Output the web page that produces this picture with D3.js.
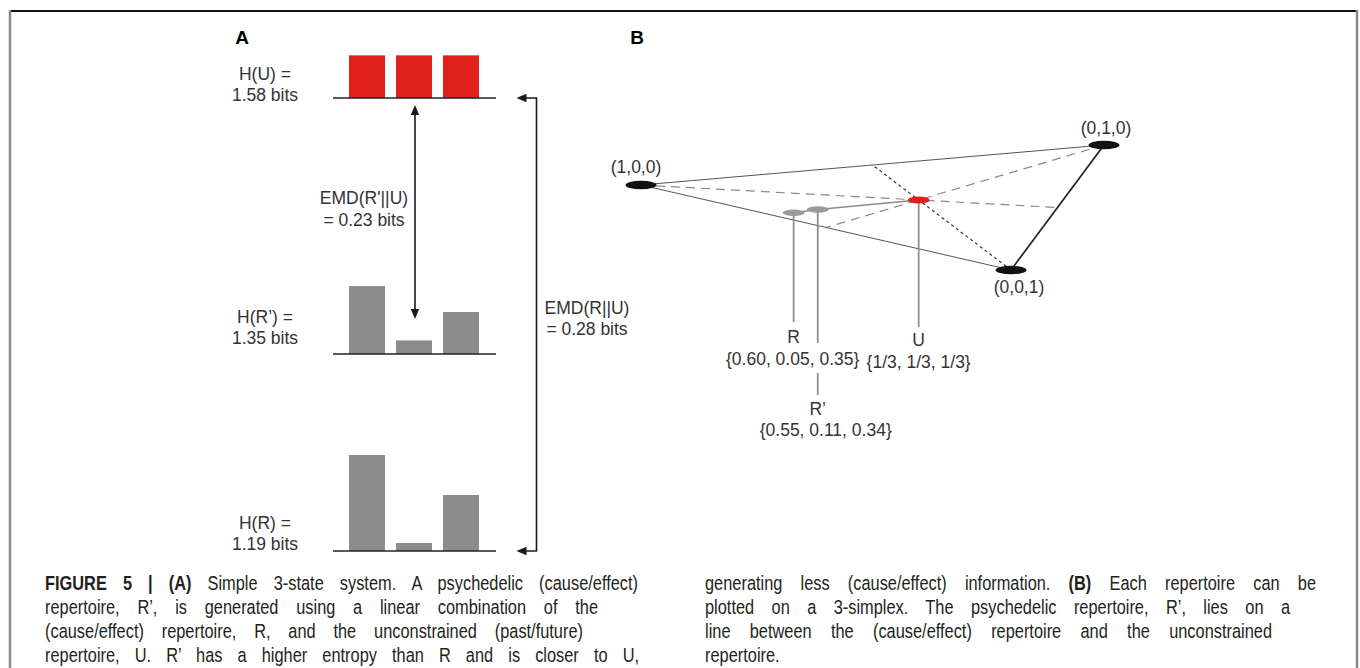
<!DOCTYPE html>
<html>
<head>
<meta charset="utf-8">
<script src="https://cdn.jsdelivr.net/npm/d3@7"></script>
<style>
  html, body { margin: 0; padding: 0; background: #fff; }
  svg { display: block; }
</style>
</head>
<body>
<svg id="fig" width="1360" height="668"></svg>
<script>
// ---------- data ----------
const states = [0, 1, 2];
const probU = [1 / 3, 1 / 3, 1 / 3];
const probRPrime = [0.55, 0.11, 0.34];
const probR = [0.60, 0.05, 0.35];
const entropyLabels = [["H(U) =", "1.58 bits"], ["H(R’) =", "1.35 bits"], ["H(R) =", "1.19 bits"]];
const emdLabels = [["EMD(R'||U)", "= 0.23 bits"], ["EMD(R||U)", "= 0.28 bits"]];
const vertexCoords = [[1, 0, 0], [0, 1, 0], [0, 0, 1]];
const vertexLabels = ["(1,0,0)", "(0,1,0)", "(0,0,1)"];
const pointNames = ["R", "R’", "U"];
const pointValueLabels = ["{0.60, 0.05, 0.35}", "{0.55, 0.11, 0.34}", "{1/3, 1/3, 1/3}"];
const captionLeft = [
  [{ t: "FIGURE 5 | (A)", b: true }, { t: " Simple 3-state system. A psychedelic (cause/effect)" }],
  [{ t: "repertoire, R’, is generated using a linear combination of the" }],
  [{ t: "(cause/effect) repertoire, R, and the unconstrained (past/future)" }],
  [{ t: "repertoire, U. R’ has a higher entropy than R and is closer to U," }]
];
const captionRight = [
  [{ t: "generating less (cause/effect) information. " }, { t: "(B)", b: true }, { t: " Each repertoire can be" }],
  [{ t: "plotted on a 3-simplex. The psychedelic repertoire, R’, lies on a" }],
  [{ t: "line between the (cause/effect) repertoire and the unconstrained" }],
  [{ t: "repertoire." }]
];

// ---------- setup ----------
const svg = d3.select("#fig");
const FONT = "'Liberation Sans', Arial, Helvetica, sans-serif";
const RED = "#e0211b", GRAY = "#8c8c8c", INK = "#333333";

svg.append("rect").attr("width", 1360).attr("height", 668).attr("fill", "#fff");

// frame around the figure
svg.append("line").attr("x1", 10).attr("x2", 1357).attr("y1", 11).attr("y2", 11)
  .attr("stroke", "#111").attr("stroke-width", 2);
svg.append("line").attr("x1", 10).attr("x2", 10).attr("y1", 10).attr("y2", 668)
  .attr("stroke", "#888").attr("stroke-width", 2.5);
svg.append("line").attr("x1", 1357).attr("x2", 1357).attr("y1", 10).attr("y2", 668)
  .attr("stroke", "#888").attr("stroke-width", 2.5);

// panel letters
svg.append("text").attr("x", 242).attr("y", 44).attr("text-anchor", "middle")
  .attr("font-family", FONT).attr("font-weight", "bold").attr("font-size", 19).text("A");
svg.append("text").attr("x", 637).attr("y", 44).attr("text-anchor", "middle")
  .attr("font-family", FONT).attr("font-weight", "bold").attr("font-size", 19).text("B");

// ---------- panel A: three repertoires as bar charts ----------
const x = d3.scaleBand().domain(states).range([343.5, 484.5]).paddingInner(0.234).paddingOuter(0.117);

const rows = [
  { probs: probU, base: 98, px: 128, color: RED, lab: entropyLabels[0], ly: [80, 101] },
  { probs: probRPrime, base: 354, px: 123.5, color: GRAY, lab: entropyLabels[1], ly: [323, 344] },
  { probs: probR, base: 551, px: 160, color: GRAY, lab: entropyLabels[2], ly: [529, 550] }
];

const gA = svg.append("g");
rows.forEach(r => {
  const h = d3.scaleLinear().domain([0, 1]).range([0, r.px]);
  gA.append("g").selectAll("rect").data(r.probs).join("rect")
    .attr("x", (d, i) => x(i))
    .attr("width", x.bandwidth())
    .attr("y", d => r.base - h(d))
    .attr("height", d => h(d))
    .attr("fill", r.color);
  gA.append("line").attr("x1", 333).attr("x2", 496).attr("y1", r.base).attr("y2", r.base)
    .attr("stroke", "#222").attr("stroke-width", 1.6);
  r.lab.forEach((s, k) => {
    gA.append("text").attr("x", 265).attr("y", r.ly[k]).attr("text-anchor", "middle")
      .attr("font-family", FONT).attr("font-size", 17.5).attr("fill", INK).text(s);
  });
});

function arrowHead(g, tipX, tipY, dir) {
  const L = 10, W = 4.2;
  let p;
  if (dir === "up") p = [[tipX, tipY], [tipX - W, tipY + L], [tipX + W, tipY + L]];
  else if (dir === "down") p = [[tipX, tipY], [tipX - W, tipY - L], [tipX + W, tipY - L]];
  else p = [[tipX, tipY], [tipX + L, tipY - W], [tipX + L, tipY + W]];
  g.append("path").attr("d", d3.line()(p) + "Z").attr("fill", "#1a1a1a");
}

// double arrow between U and R'
const topTip = rows[0].base + 7, botTip = rows[1].base - 35;
gA.append("line").attr("x1", 415).attr("x2", 415).attr("y1", topTip + 8).attr("y2", botTip - 8)
  .attr("stroke", "#1a1a1a").attr("stroke-width", 1.6);
arrowHead(gA, 415, topTip, "up");
arrowHead(gA, 415, botTip, "down");

// bracket from R up to U
gA.append("path")
  .attr("d", d3.line()([[525, rows[0].base], [536.5, rows[0].base], [536.5, rows[2].base], [525, rows[2].base]]))
  .attr("fill", "none").attr("stroke", "#1a1a1a").attr("stroke-width", 1.6);
arrowHead(gA, 516.5, rows[0].base, "left");
arrowHead(gA, 516.5, rows[2].base, "left");

// EMD labels
[[364, [204, 226]], [587, [314, 335]]].forEach(([cx, ys], i) => {
  emdLabels[i].forEach((s, k) => {
    gA.append("text").attr("x", cx).attr("y", ys[k]).attr("text-anchor", "middle")
      .attr("font-family", FONT).attr("font-size", 17.5).attr("fill", INK).text(s);
  });
});

// ---------- panel B: the 3-simplex ----------
const V = [[641, 185], [1104, 145], [1011, 270]];   // screen position of each corner
const project = p => [
  d3.sum(p, (w, i) => w * V[i][0]),
  d3.sum(p, (w, i) => w * V[i][1])
];
const gB = svg.append("g");
const line = d3.line();

const cU = project(probU), cR = project(probR), cRp = project(probRPrime);

// medians of the triangle
const mid = (a, b) => [(a[0] + b[0]) / 2, (a[1] + b[1]) / 2];
gB.append("path").attr("d", line([V[0], mid(V[1], V[2])]))
  .attr("stroke", "#8a8a8a").attr("stroke-width", 1.2).attr("stroke-dasharray", "9,6").attr("fill", "none");
gB.append("path").attr("d", line([V[1], mid(V[0], V[2])]))
  .attr("stroke", "#8a8a8a").attr("stroke-width", 1.2).attr("stroke-dasharray", "9,6").attr("fill", "none");
gB.append("path").attr("d", line([V[2], mid(V[0], V[1])]))
  .attr("stroke", "#333").attr("stroke-width", 1.2).attr("stroke-dasharray", "3,3").attr("fill", "none");

// edges
gB.append("path").attr("d", line([V[0], V[1]])).attr("stroke", "#555").attr("stroke-width", 1).attr("fill", "none");
gB.append("path").attr("d", line([V[0], V[2]])).attr("stroke", "#555").attr("stroke-width", 1).attr("fill", "none");
gB.append("path").attr("d", line([V[2], V[1]])).attr("stroke", "#222").attr("stroke-width", 1.7).attr("fill", "none");

// segment R -> R' -> U
gB.append("path").attr("d", line([cR, cRp, cU])).attr("stroke", "#8a8a8a").attr("stroke-width", 1.5).attr("fill", "none");

// stems and labels for the three repertoires
const pts = [cR, cRp, cU];
const stemSegs = [[[0, 322]], [[0, 343], [373, 395]], [[0, 327]]];
stemSegs.forEach((segs, i) => {
  segs.forEach(([a, b]) => {
    gB.append("line").attr("x1", pts[i][0]).attr("x2", pts[i][0])
      .attr("y1", a === 0 ? pts[i][1] : a).attr("y2", b)
      .attr("stroke", "#8f8f8f").attr("stroke-width", 1.8);
  });
});
const nameY = [343, 415, 346], valY = [365, 436, 368], valDx = [-1, 8, 0];
pts.forEach((p, i) => {
  gB.append("text").attr("x", p[0]).attr("y", nameY[i]).attr("text-anchor", "middle")
    .attr("font-family", FONT).attr("font-size", 17.5).attr("fill", INK).text(pointNames[i]);
  gB.append("text").attr("x", p[0] + valDx[i]).attr("y", valY[i]).attr("text-anchor", "middle")
    .attr("font-family", FONT).attr("font-size", 17.5).attr("fill", INK).text(pointValueLabels[i]);
});

// markers
gB.selectAll("ellipse.pt").data([cR, cRp]).join("ellipse")
  .attr("cx", d => d[0]).attr("cy", d => d[1]).attr("rx", 11).attr("ry", 3.2).attr("fill", "#9a9a9a");
gB.append("ellipse").attr("cx", cU[0]).attr("cy", cU[1]).attr("rx", 11).attr("ry", 3.6).attr("fill", RED);
const vPts = vertexCoords.map(project);
gB.selectAll("ellipse.v").data(vPts).join("ellipse")
  .attr("cx", d => d[0]).attr("cy", d => d[1]).attr("rx", 15.5).attr("ry", 4.3).attr("fill", "#111");

const vLab = [[636, 173], [1106, 134], [1019, 293]];
vertexLabels.forEach((s, i) => {
  gB.append("text").attr("x", vLab[i][0]).attr("y", vLab[i][1]).attr("text-anchor", "middle")
    .attr("font-family", FONT).attr("font-size", 17.5).attr("fill", INK).text(s);
});

// ---------- caption (horizontally condensed, justified per line) ----------
const SQ = 0.84;
function captionLine(x0, y0, segs, target) {
  const g = svg.append("g").attr("transform", `translate(${x0},${y0}) scale(${SQ},1)`);
  const t = g.append("text").attr("x", 0).attr("y", 0)
    .attr("font-family", FONT).attr("font-size", 19.5).attr("fill", "#231f20");
  segs.forEach(s => t.append("tspan").attr("font-weight", s.b ? "bold" : null).text(s.t));
  if (target) {
    const w = t.node().getComputedTextLength();
    const n = segs.map(s => s.t).join("").split(" ").length - 1;
    t.attr("word-spacing", (target / SQ - w) / n);
  }
}
const capY = [590, 614, 638, 662];
const leftW = [593, 553, 538, 594];
const rightW = [611, 585, 567, null];
captionLeft.forEach((segs, i) => captionLine(45, capY[i], segs, leftW[i]));
captionRight.forEach((segs, i) => captionLine(705, capY[i], segs, rightW[i]));
</script>
</body>
</html>
